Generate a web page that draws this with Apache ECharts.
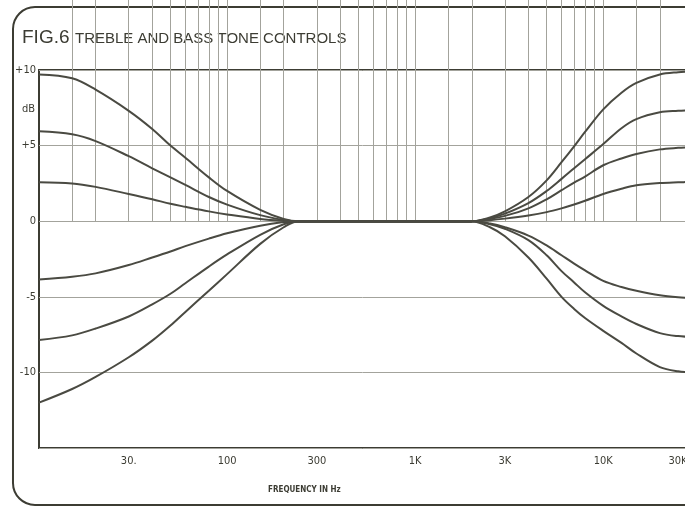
<!DOCTYPE html>
<html>
<head>
<meta charset="utf-8">
<script src="https://cdn.jsdelivr.net/npm/echarts@6/dist/echarts.min.js"></script>
<style>
  html, body { margin: 0; padding: 0; background: #ffffff; }
  #chart { width: 685px; height: 508px; }
</style>
</head>
<body>
<div id="chart"></div>
<script>
// Frequency axis: labelled ticks and the full set of vertical grid lines (Hz)
const FREQ_TICKS = [30, 100, 300, 1000, 3000, 10000, 30000];
const FREQ_TICK_LABELS = ['30.', '100', '300', '1K', '3K', '10K', '30K'];
const GRID_FREQS = [15, 20, 30, 40, 50, 60, 70, 80, 90, 100, 150, 200,
  300, 400, 500, 600, 700, 800, 900, 1000, 1500, 2000,
  3000, 4000, 5000, 6000, 7000, 8000, 9000, 10000, 15000, 20000, 30000];

// Level axis (dB)
const DB_TICKS = [10, 5, 0, -5, -10];
const DB_TICK_LABELS = ['+10', '+5', '0', '-5', '-10'];

// Bass control: response at these frequencies for each knob setting
const BASS_FREQS = [10, 15, 20, 30, 40, 50, 60, 80, 100, 150, 200, 240, 2000];
const BASS_BOOST_3 = [9.7, 9.45, 8.7, 7.3, 6.1, 5.0, 4.2, 2.9, 2.0, 0.75, 0.15, 0, 0];
const BASS_BOOST_2 = [5.95, 5.75, 5.3, 4.3, 3.5, 2.9, 2.4, 1.6, 1.1, 0.4, 0.08, 0, 0];
const BASS_BOOST_1 = [2.58, 2.5, 2.27, 1.8, 1.45, 1.15, 0.95, 0.65, 0.45, 0.15, 0.03, 0, 0];
const BASS_CUT_1 = [-3.85, -3.67, -3.45, -2.9, -2.4, -2.0, -1.65, -1.15, -0.8, -0.3, -0.06, 0, 0];
const BASS_CUT_2 = [-7.86, -7.55, -7.1, -6.3, -5.5, -4.8, -4.1, -3.0, -2.2, -0.9, -0.2, 0, 0];
const BASS_CUT_3 = [-12.0, -11.1, -10.3, -9.0, -7.9, -6.9, -6.0, -4.6, -3.5, -1.5, -0.4, 0, 0];

// Treble control: response at these frequencies for each knob setting
const TREBLE_FREQS = [200, 2000, 2500, 3000, 4000, 5000, 6000, 7000, 8000, 10000, 12500, 15000, 20000, 25000, 30000];
const TREBLE_BOOST_4 = [0, 0, 0.25, 0.65, 1.6, 2.7, 3.9, 4.95, 5.9, 7.4, 8.5, 9.15, 9.7, 9.85, 9.9];
const TREBLE_BOOST_3 = [0, 0, 0.2, 0.5, 1.2, 2.0, 2.8, 3.5, 4.1, 5.1, 6.15, 6.75, 7.2, 7.3, 7.35];
const TREBLE_BOOST_2 = [0, 0, 0.15, 0.35, 0.85, 1.45, 2.05, 2.55, 2.95, 3.7, 4.15, 4.45, 4.75, 4.85, 4.9];
const TREBLE_BOOST_1 = [0, 0, 0.07, 0.17, 0.38, 0.6, 0.85, 1.1, 1.35, 1.8, 2.15, 2.38, 2.52, 2.57, 2.6];
const TREBLE_CUT_1 = [0, 0, -0.15, -0.4, -0.95, -1.6, -2.25, -2.8, -3.25, -3.95, -4.35, -4.6, -4.9, -5.03, -5.08];
const TREBLE_CUT_2 = [0, 0, -0.2, -0.5, -1.25, -2.25, -3.3, -4.05, -4.7, -5.6, -6.3, -6.8, -7.4, -7.6, -7.65];
const TREBLE_CUT_3 = [0, 0, -0.4, -1.0, -2.4, -3.8, -5.0, -5.8, -6.4, -7.25, -8.05, -8.75, -9.65, -9.93, -10.0];

const INK = '#3c3c33';
const CURVE = '#4a4a42';
const GRIDLINE = '#a3a39c';
const NARROW = "'Liberation Sans Narrow', 'DejaVu Sans Condensed', 'Liberation Sans', sans-serif";
const SANS = "'Liberation Sans', 'DejaVu Sans', sans-serif";

// The frequency axis is logarithmic: positions are log10(Hz) on a value axis
const lg = Math.log10;
const toPoints = (freqs, levels) => freqs.map((f, i) => [lg(f), levels[i]]);

const curves = [
  [BASS_FREQS, BASS_BOOST_3], [BASS_FREQS, BASS_BOOST_2], [BASS_FREQS, BASS_BOOST_1],
  [BASS_FREQS, BASS_CUT_1], [BASS_FREQS, BASS_CUT_2], [BASS_FREQS, BASS_CUT_3],
  [TREBLE_FREQS, TREBLE_BOOST_4], [TREBLE_FREQS, TREBLE_BOOST_3],
  [TREBLE_FREQS, TREBLE_BOOST_2], [TREBLE_FREQS, TREBLE_BOOST_1],
  [TREBLE_FREQS, TREBLE_CUT_1], [TREBLE_FREQS, TREBLE_CUT_2], [TREBLE_FREQS, TREBLE_CUT_3]
];

function freqLabel(v) {
  const i = FREQ_TICKS.findIndex(f => Math.abs(lg(f) - v) < 1e-6);
  if (i < 0) return '';
  // the last label sits against the right edge of the sheet, nudge it inward
  return i === FREQ_TICKS.length - 1 ? '{edge|' + FREQ_TICK_LABELS[i] + '}' : FREQ_TICK_LABELS[i];
}

const chart = echarts.init(document.getElementById('chart'), null, { renderer: 'canvas' });

chart.setOption({
  backgroundColor: '#ffffff',
  animation: false,
  grid: {
    left: 39, top: 70, width: 654, height: 378,
    outerBoundsMode: 'none',
    containLabel: false,
    show: true, borderColor: INK, borderWidth: 2, backgroundColor: 'transparent'
  },
  xAxis: {
    type: 'value',
    min: lg(10),
    max: lg(30000),
    axisLine: { show: false },
    splitLine: { show: false },
    axisTick: {
      show: true,
      inside: true,
      length: 378,
      customValues: GRID_FREQS.map(lg),
      lineStyle: { color: GRIDLINE, width: 1 }
    },
    axisLabel: {
      customValues: FREQ_TICKS.map(lg),
      formatter: freqLabel,
      margin: 8,
      color: INK,
      fontFamily: NARROW,
      fontSize: 11,
      rich: { edge: { padding: [0, 30, 0, 0], fontFamily: NARROW, fontSize: 11, color: INK } }
    }
  },
  yAxis: {
    type: 'value',
    min: -15,
    max: 10,
    interval: 5,
    axisLine: { show: false },
    axisTick: { show: false },
    splitLine: { show: true, lineStyle: { color: GRIDLINE, width: 1 } },
    axisLabel: {
      margin: 3,
      color: INK,
      fontFamily: NARROW,
      fontSize: 11,
      formatter: v => {
        const i = DB_TICKS.indexOf(v);
        return i < 0 ? '' : DB_TICK_LABELS[i];
      }
    }
  },
  series: curves.map(([freqs, levels]) => ({
    type: 'line',
    data: toPoints(freqs, levels),
    smooth: 0.35,
    showSymbol: false,
    silent: true,
    lineStyle: { color: CURVE, width: 2 },
    z: 3
  })),
  graphic: [
    {
      type: 'rect',
      shape: { x: 13, y: 7, width: 740, height: 498, r: 22 },
      style: { fill: 'none', stroke: INK, lineWidth: 2 },
      silent: true
    },
    {
      type: 'text', x: 22, y: 28,
      style: { text: 'FIG.6', font: '19px ' + SANS, fill: INK }
    },
    {
      type: 'text', x: 75, y: 31,
      style: { text: 'TREBLE AND BASS TONE CONTROLS', font: '15px ' + SANS, fill: INK }
    },
    {
      type: 'text', x: 22, y: 104,
      style: { text: 'dB', font: '11px ' + NARROW, fill: INK }
    },
    {
      type: 'text', x: 268, y: 486,
      style: { text: 'FREQUENCY IN Hz', font: 'bold 8px ' + NARROW, fill: INK }
    }
  ]
});
</script>
</body>
</html>
